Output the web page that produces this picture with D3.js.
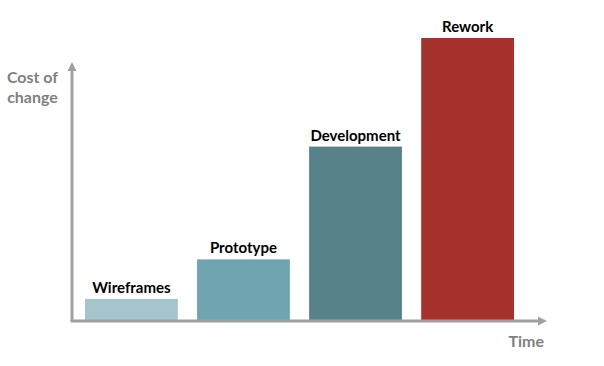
<!DOCTYPE html>
<html>
<head>
<meta charset="utf-8">
<script src="https://cdn.jsdelivr.net/npm/d3@7"></script>
<style>
  body { margin: 0; background: #fff; }
  text { font-family: Lato, "Open Sans", sans-serif; font-weight: bold; }
</style>
</head>
<body>
<div id="chart"></div>
<script>
// data
const categories = ["Wireframes", "Prototype", "Development", "Rework"];
const costs = [7.5, 21.5, 61.5, 100];
const barColors = ["#a5c5cc", "#6ea5b0", "#57828a", "#a5322a"];
const yTitle = ["Cost of", "change"];
const xTitle = "Time";

const width = 604;
const height = 366;
const originX = 72;
const originY = 321;
const axisColor = "#a0a0a0";

const svg = d3.select("#chart").append("svg")
    .attr("width", width)
    .attr("height", height);

// scales
const xScale = d3.scaleBand()
    .domain(categories)
    .range([85, 514])
    .paddingInner(0.172)
    .paddingOuter(0);

const yScale = d3.scaleLinear()
    .domain([0, 100])
    .range([320, 38]);

// bars
svg.selectAll("rect.bar")
    .data(categories)
    .enter()
    .append("rect")
    .attr("class", "bar")
    .attr("x", d => xScale(d))
    .attr("y", (d, i) => yScale(costs[i]))
    .attr("width", xScale.bandwidth())
    .attr("height", (d, i) => yScale(0) - yScale(costs[i]))
    .attr("fill", (d, i) => barColors[i]);

// bar labels
svg.selectAll("text.label")
    .data(categories)
    .enter()
    .append("text")
    .attr("class", "label")
    .attr("x", d => xScale(d) + xScale.bandwidth() / 2)
    .attr("y", (d, i) => yScale(costs[i]) - 6)
    .attr("text-anchor", "middle")
    .attr("font-size", 15)
    .attr("fill", "#000")
    .text(d => d);

// axes with arrows
svg.append("line")
    .attr("x1", originX).attr("y1", originY)
    .attr("x2", originX).attr("y2", 70)
    .attr("stroke", axisColor).attr("stroke-width", 3);
svg.append("path")
    .attr("d", `M${originX - 4.5},71 L${originX},62 L${originX + 4.5},71 Z`)
    .attr("fill", axisColor);

svg.append("line")
    .attr("x1", originX - 1.5).attr("y1", originY)
    .attr("x2", 539).attr("y2", originY)
    .attr("stroke", axisColor).attr("stroke-width", 3);
svg.append("path")
    .attr("d", `M538,${originY - 4.5} L547,${originY} L538,${originY + 4.5} Z`)
    .attr("fill", axisColor);

// axis titles
svg.append("text")
    .attr("x", 32.5)
    .attr("y", 83)
    .attr("text-anchor", "middle")
    .attr("font-size", 16)
    .attr("fill", "#7f7f7f")
    .selectAll("tspan")
    .data(yTitle)
    .enter()
    .append("tspan")
    .attr("x", 32.5)
    .attr("dy", (d, i) => i === 0 ? 0 : 20)
    .text(d => d);

svg.append("text")
    .attr("x", 544)
    .attr("y", 347)
    .attr("text-anchor", "end")
    .attr("font-size", 16)
    .attr("fill", "#7f7f7f")
    .text(xTitle);
</script>
</body>
</html>
